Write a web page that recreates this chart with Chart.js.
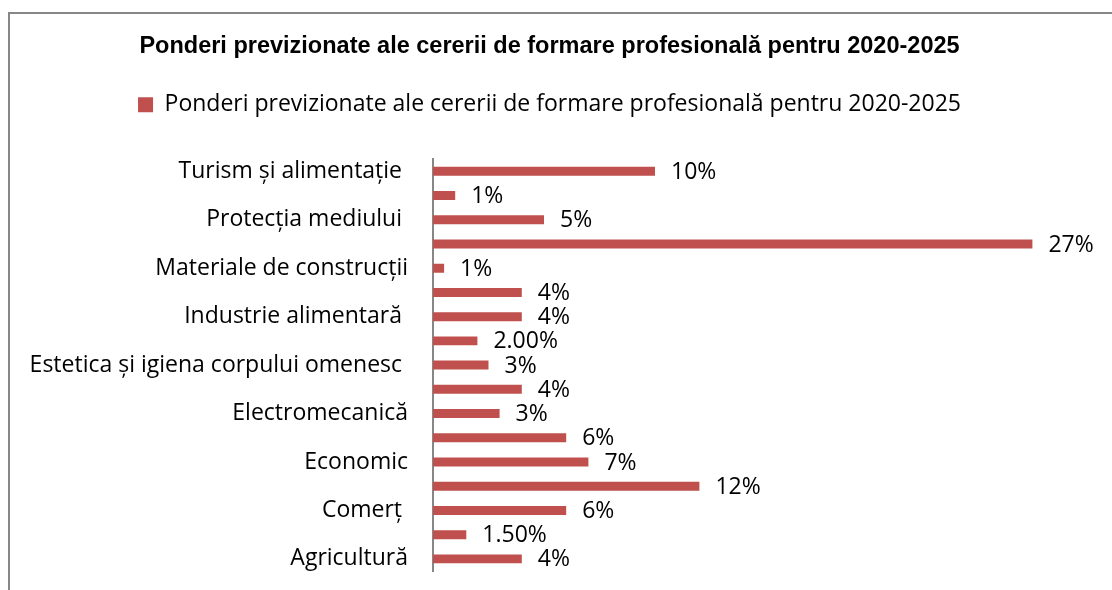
<!DOCTYPE html>
<html>
<head>
<meta charset="utf-8">
<script src="https://cdn.jsdelivr.net/npm/chart.js@4/dist/chart.umd.min.js"></script>
<style>
  html, body { margin: 0; padding: 0; background: #ffffff; }
  #wrap { position: relative; width: 1112px; height: 590px; overflow: hidden; }
  #frame { position: absolute; left: 8px; top: 12px; width: 1200px; height: 700px;
           border-left: 2px solid #878787; border-top: 2px solid #878787; box-sizing: border-box; }
  canvas { position: absolute; left: 0; top: 0; }
</style>
</head>
<body>
<div id="wrap">
  <div id="frame"></div>
  <canvas id="c" width="1112" height="590"></canvas>
</div>
<script>
// Categories in source order (first category is drawn at the bottom)
const categories = [
  "Agricultură",
  "Chimie industrială",
  "Comerț ",
  "Construcții, instalații și lucrări publice",
  "Economic",
  "Electric",
  "Electromecanică",
  "Electronică automatizări",
  "Estetica și igiena corpului omenesc ",
  "Fabricarea produselor din lemn",
  "Industrie alimentară ",
  "Industrie textilă și pielărie",
  "Materiale de construcții",
  "Mecanică",
  "Protecția mediului ",
  "Silvicultură",
  "Turism și alimentație "
];
const shares = [0.04, 0.015, 0.06, 0.12, 0.07, 0.06, 0.03, 0.04, 0.025, 0.02, 0.04, 0.04, 0.005, 0.27, 0.05, 0.01, 0.10];
const valueLabels = ["4%", "1.50%", "6%", "12%", "7%", "6%", "3%", "4%", "3%", "2.00%", "4%", "4%", "1%", "27%", "5%", "1%", "10%"];
const seriesName = "Ponderi previzionate ale cererii de formare profesională pentru 2020-2025";
const chartTitle = "Ponderi previzionate ale cererii de formare profesională pentru 2020-2025";

const BODY_FONT = "Open Sans";
const BODY_SIZE = 23;

const valueLabelPlugin = {
  id: 'valueLabels',
  afterDatasetsDraw(chart) {
    const ctx = chart.ctx;
    const meta = chart.getDatasetMeta(0);
    ctx.save();
    ctx.font = BODY_SIZE + "px " + BODY_FONT;
    ctx.fillStyle = "#000000";
    ctx.textAlign = "left";
    ctx.textBaseline = "middle";
    meta.data.forEach((bar, i) => {
      ctx.fillText(valueLabels[i], bar.x + 16, bar.y + 1);
    });
    ctx.restore();
  }
};

new Chart(document.getElementById('c'), {
  type: 'bar',
  data: {
    labels: categories,
    datasets: [{
      label: seriesName,
      data: shares,
      backgroundColor: '#C0504D',
      borderWidth: 0,
      barPercentage: 0.37,
      categoryPercentage: 1.0
    }]
  },
  options: {
    indexAxis: 'y',
    responsive: false,
    animation: false,
    devicePixelRatio: 1,
    layout: { padding: { top: 0, right: 13, bottom: 19, left: 0 } },
    plugins: {
      title: {
        display: true,
        text: chartTitle,
        color: '#000000',
        font: { family: 'Liberation Sans', size: 23.5, weight: 'bold' },
        padding: { top: 32, bottom: 23 }
      },
      legend: {
        display: true,
        position: 'top',
        labels: {
          color: '#000000',
          font: { family: BODY_FONT, size: BODY_SIZE },
          boxWidth: 15,
          boxHeight: 15,
          padding: 10
        }
      },
      tooltip: { enabled: false }
    },
    scales: {
      x: {
        display: true,
        position: 'top',
        min: 0,
        max: 0.3,
        grid: { display: false, drawTicks: false },
        border: { display: false },
        ticks: { display: false },
        afterFit(scale) { scale.height = 33; }
      },
      y: {
        reverse: true,
        grid: {
          display: true,
          drawOnChartArea: false,
          drawTicks: true,
          tickLength: 25,
          tickColor: 'rgba(0,0,0,0)'
        },
        border: { display: true, color: '#878787', width: 2 },
        ticks: {
          autoSkip: false,
          padding: 0,
          color: '#000000',
          font: { family: BODY_FONT, size: BODY_SIZE },
          callback: function(value, index) {
            return index % 2 === 0 ? categories[index] : '';
          }
        },
        afterFit(scale) { scale.width = 433; }
      }
    }
  },
  plugins: [valueLabelPlugin]
});
</script>
</body>
</html>
